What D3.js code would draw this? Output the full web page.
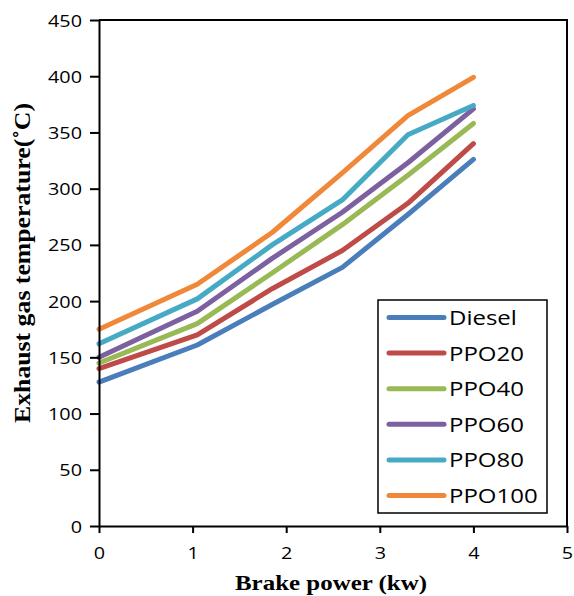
<!DOCTYPE html>
<html>
<head>
<meta charset="utf-8">
<script src="https://cdn.jsdelivr.net/npm/d3@7"></script>
<style>
  html, body { margin: 0; padding: 0; background: #fff; }
  svg { display: block; }
</style>
</head>
<body>
<div id="chart"></div>
<script>
const brakePower = [0, 1.05, 1.85, 2.6, 3.3, 4];
const seriesNames = ["Diesel", "PPO20", "PPO40", "PPO60", "PPO80", "PPO100"];
const diesel = [128, 161, 197, 230, 277, 326];
const ppo20  = [140, 170, 211, 245, 287, 340];
const ppo40  = [145, 180, 225, 268, 312, 358];
const ppo60  = [150, 191, 238, 279, 323, 371];
const ppo80  = [162, 202, 250, 290, 348, 374];
const ppo100 = [175, 215, 261, 314, 365, 399];
const colors = ["#4A7EBB", "#BE4B48", "#98B954", "#7D60A0", "#46AAC5", "#F0883A"];
const xTicks = [0, 1, 2, 3, 4, 5];
const yTicks = [0, 50, 100, 150, 200, 250, 300, 350, 400, 450];

const allValues = [diesel, ppo20, ppo40, ppo60, ppo80, ppo100];
const series = seriesNames.map((name, i) => ({
  name, color: colors[i],
  points: brakePower.map((x, j) => ({ x, y: allValues[i][j] }))
}));

const W = 574, H = 596;
const mLeft = 99, mRight = 567, mTop = 20, mBottom = 526;

const svg = d3.select("#chart").append("svg").attr("width", W).attr("height", H);

const x = d3.scaleLinear().domain([0, 5]).range([mLeft, mRight]);
const y = d3.scaleLinear().domain([0, 450]).range([mBottom, mTop]);

const sx = 1.2; // horizontal stretch of the original rendering
const tickFont = "'Open Sans', sans-serif";

// Lines
const line = d3.line().x(d => x(d.x)).y(d => y(d.y));
svg.append("g").selectAll("path").data(series).join("path")
  .attr("d", d => line(d.points))
  .attr("fill", "none")
  .attr("stroke", d => d.color)
  .attr("stroke-width", 5)
  .attr("stroke-linejoin", "round")
  .attr("stroke-linecap", "round");

// Frame (top and right)
svg.append("path")
  .attr("d", `M${mLeft},${mTop}H${mRight}V${mBottom}`)
  .attr("fill", "none").attr("stroke", "#000").attr("stroke-width", 2);

// X axis
const xAxis = svg.append("g").attr("transform", `translate(0,${mBottom})`)
  .call(d3.axisBottom(x).tickValues(xTicks).tickSize(7).tickSizeOuter(0).tickFormat(d3.format("d")));
xAxis.select(".domain").attr("stroke", "#000").attr("stroke-width", 2);
xAxis.selectAll(".tick line").attr("stroke", "#000").attr("stroke-width", 2);
xAxis.selectAll(".tick text")
  .attr("font-family", tickFont).attr("font-size", 16.5).attr("fill", "#000")
  .attr("y", 0).attr("dy", 0)
  .attr("transform", `translate(0,33) scale(${sx},1)`);

// Y axis
const yAxis = svg.append("g").attr("transform", `translate(${mLeft},0)`)
  .call(d3.axisLeft(y).tickValues(yTicks).tickSize(9).tickSizeOuter(0).tickFormat(d3.format("d")));
yAxis.select(".domain").attr("stroke", "#000").attr("stroke-width", 2);
yAxis.selectAll(".tick line").attr("stroke", "#000").attr("stroke-width", 2);
yAxis.selectAll(".tick text")
  .attr("font-family", tickFont).attr("font-size", 16.5).attr("fill", "#000")
  .attr("x", 0).attr("dy", 0).attr("y", 0)
  .attr("transform", `translate(-17,6) scale(${sx},1)`);

// Axis titles
svg.append("text")
  .attr("x", 331).attr("y", 590)
  .attr("text-anchor", "middle")
  .attr("font-family", "'Liberation Serif', 'Times New Roman', serif")
  .attr("font-weight", "bold").attr("font-size", 21)
  .attr("textLength", 192).attr("lengthAdjust", "spacingAndGlyphs")
  .text("Brake power (kw)");

svg.append("text")
  .attr("transform", "translate(30,263) rotate(-90)")
  .attr("text-anchor", "middle")
  .attr("font-family", "'Liberation Serif', 'Times New Roman', serif")
  .attr("font-weight", "bold").attr("font-size", 23)
  .attr("textLength", 320).attr("lengthAdjust", "spacingAndGlyphs")
  .text("Exhaust gas temperature(˚C)");

// Legend
const lg = svg.append("g");
lg.append("rect")
  .attr("x", 378).attr("y", 300).attr("width", 169).attr("height", 213)
  .attr("fill", "#fff").attr("stroke", "#000").attr("stroke-width", 1.5);
const rowY = d3.scalePoint().domain(seriesNames).range([317.5, 495.5]);
const item = lg.selectAll("g.item").data(series).join("g").attr("class", "item")
  .attr("transform", d => `translate(0,${rowY(d.name)})`);
item.append("line")
  .attr("x1", 389).attr("x2", 444).attr("y1", 0).attr("y2", 0)
  .attr("stroke", d => d.color).attr("stroke-width", 5).attr("stroke-linecap", "round");
item.append("text")
  .attr("transform", `translate(449,7.5) scale(1.17,1)`)
  .attr("font-family", tickFont).attr("font-size", 20.5).attr("fill", "#000")
  .text(d => d.name);
</script>
</body>
</html>
